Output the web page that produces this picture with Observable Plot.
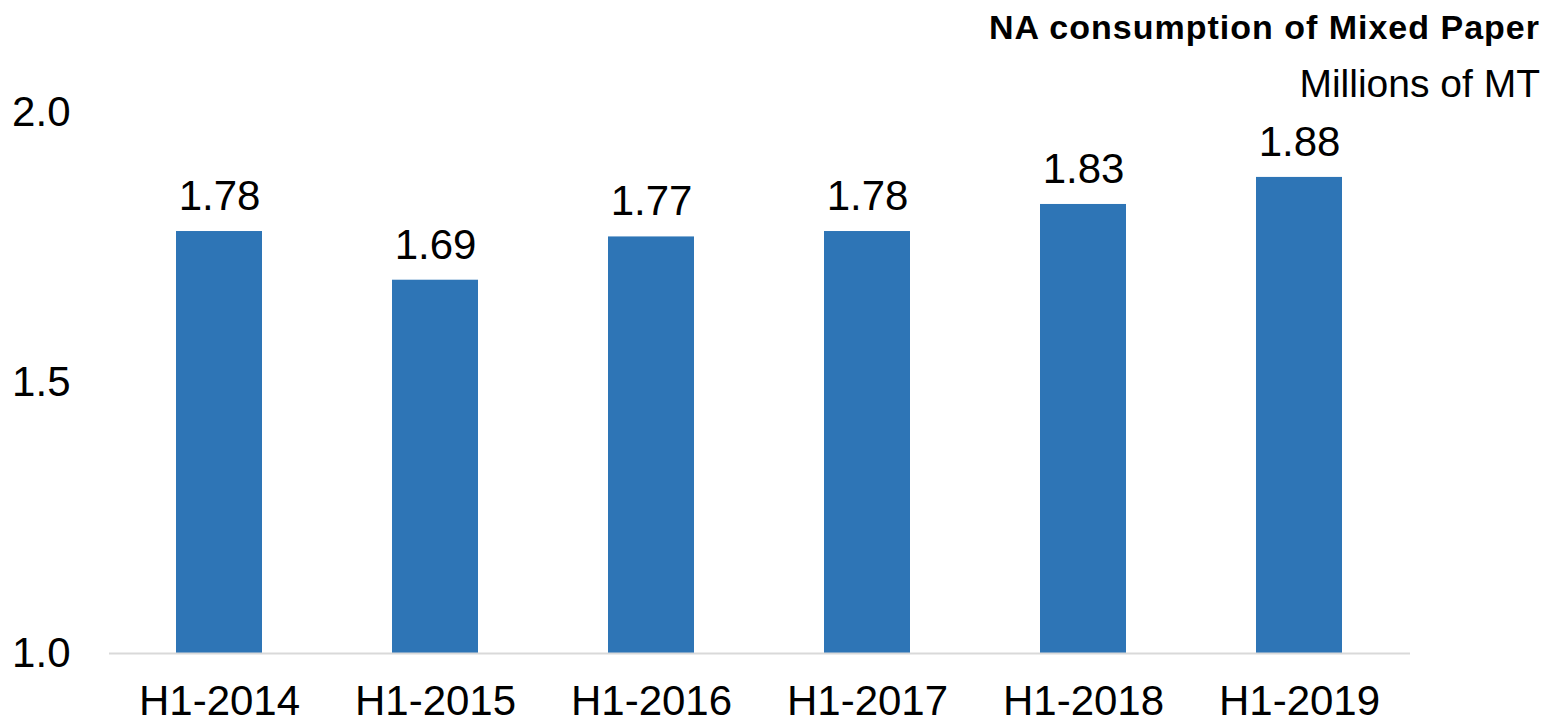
<!DOCTYPE html>
<html>
<head>
<meta charset="utf-8">
<script src="https://cdn.jsdelivr.net/npm/d3@7"></script>
<script src="https://cdn.jsdelivr.net/npm/@observablehq/plot@0.6"></script>
<style>
  html, body { margin: 0; padding: 0; background: #fff; }
  body { width: 1564px; height: 723px; position: relative; overflow: hidden; font-family: "Liberation Sans", Arial, sans-serif; }
  #title { position: absolute; right: 24px; top: 10px; font-size: 34px; line-height: 1; letter-spacing: 1px; font-weight: bold; color: #000; white-space: nowrap; }
  #subtitle { position: absolute; right: 24px; top: 64px; font-size: 39px; line-height: 1; color: #000; white-space: nowrap; }
  #chart { position: absolute; left: 0; top: 0; }
  #chart svg { overflow: visible; }
</style>
</head>
<body>
<div id="chart"></div>
<div id="title">NA consumption of Mixed Paper</div>
<div id="subtitle">Millions of MT</div>
<script>
const categories = ["H1-2014", "H1-2015", "H1-2016", "H1-2017", "H1-2018", "H1-2019"];
const values = [1.78, 1.69, 1.77, 1.78, 1.83, 1.88];
const yTicks = [1.0, 1.5, 2.0];

const data = categories.map((c, i) => ({category: c, value: values[i]}));

const chart = Plot.plot({
  width: 1564,
  height: 723,
  marginLeft: 109,
  marginRight: 154,
  marginTop: 112,
  marginBottom: 70,
  style: {fontFamily: "'Liberation Sans', Arial, sans-serif", fontSize: "42px", color: "#000", background: "#fff"},
  x: {domain: categories, paddingInner: 0.6, paddingOuter: 0.3, label: null},
  y: {domain: [1, 2], label: null},
  marks: [
    Plot.barY(data, {x: "category", y1: 1, y2: "value", fill: "#2E75B6"}),
    Plot.ruleY([1], {stroke: "#d9d9d9", strokeWidth: 2}),
    Plot.text(data, {x: "category", y: "value", text: d => d.value.toFixed(2), dy: -35, lineAnchor: "middle", fontSize: 42, fill: "#000"}),
    Plot.axisY({ticks: yTicks, tickFormat: d => d.toFixed(1), tickSize: 0, tickPadding: 39, fontSize: 42, label: null}),
    Plot.axisX({tickSize: 0, tickPadding: 32, fontSize: 42, label: null})
  ]
});
document.getElementById("chart").appendChild(chart);
</script>
</body>
</html>
